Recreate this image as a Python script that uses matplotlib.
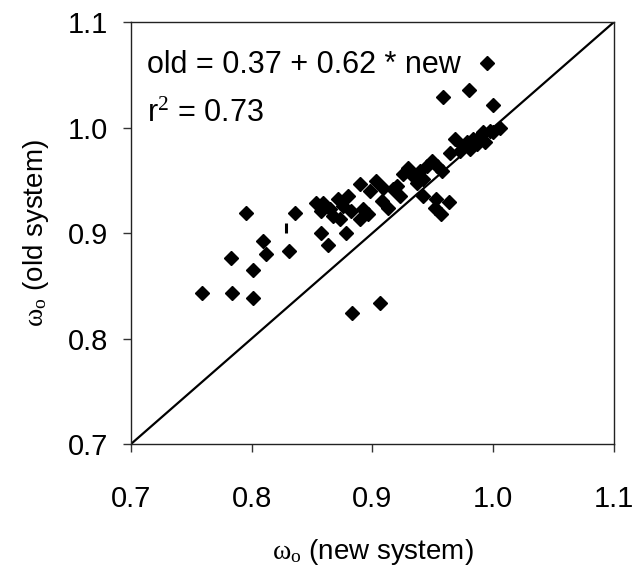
import matplotlib.pyplot as plt

plt.rcParams['font.family'] = ['Liberation Sans', 'DejaVu Sans']
plt.rcParams['mathtext.fontset'] = 'custom'
plt.rcParams['mathtext.rm'] = 'Liberation Serif'
plt.rcParams['mathtext.it'] = 'Liberation Serif'

# omega_o, new system (x) vs old system (y)
new_sys = [0.759, 0.784, 0.783, 0.801, 0.801, 0.809, 0.812, 0.831, 0.795, 0.836,
           0.857, 0.863, 0.878, 0.883, 0.906, 0.890,
           0.8535, 0.8591, 0.8646, 0.8715, 0.8798, 0.8577, 0.8674, 0.8757, 0.8826,
           0.8895, 0.8964, 0.8923, 0.8729,
           0.9033, 0.8978, 0.9089, 0.9172, 0.9075, 0.9130, 0.9227, 0.9199,
           0.9296, 0.9254, 0.9337, 0.9393, 0.9448, 0.9490, 0.9531, 0.9420, 0.9573, 0.9365,
           0.9683, 0.9642, 0.9725, 0.9780, 0.9835, 0.9891, 0.9918, 0.9974, 0.9808, 0.9863,
           0.9932, 0.9752, 1.0057, 1.0001,
           0.942, 0.953, 0.963, 0.952, 0.957,
           0.995, 0.958, 0.980, 1.000]
old_sys = [0.843, 0.843, 0.876, 0.865, 0.838, 0.892, 0.880, 0.883, 0.919, 0.919,
           0.900, 0.889, 0.900, 0.824, 0.834, 0.946,
           0.9288, 0.9288, 0.9224, 0.9319, 0.9351, 0.9209, 0.9161, 0.9256, 0.9209,
           0.9129, 0.9177, 0.9224, 0.9129,
           0.9494, 0.9399, 0.9430, 0.9414, 0.9304, 0.9240, 0.9351, 0.9446,
           0.9620, 0.9557, 0.9541, 0.9589, 0.9636, 0.9684, 0.9636, 0.9510, 0.9589, 0.9478,
           0.9890, 0.9763, 0.9779, 0.9858, 0.9890, 0.9921, 0.9953, 0.9969, 0.9795, 0.9842,
           0.9858, 0.9826, 1.000, 0.9953,
           0.935, 0.932, 0.929, 0.924, 0.918,
           1.061, 1.029, 1.036, 1.021]

# stray clipped marker
dash_x = [0.8286]
dash_y = [0.905]

ticks = [0.7, 0.8, 0.9, 1.0, 1.1]
tick_labels = ['0.7', '0.8', '0.9', '1.0', '1.1']

fig = plt.figure(figsize=(6.34, 5.75), dpi=100)
ax = fig.add_axes([131 / 634, 131 / 575, 483 / 634, 422 / 575])

ax.plot([0.7, 1.1], [0.7, 1.1], color='black', lw=1.6, zorder=2)
ax.plot(new_sys, old_sys, linestyle='none', marker='D', markersize=7.4,
        color='black', zorder=3)
ax.plot(dash_x, dash_y, linestyle='none', marker='|', markersize=7,
        markeredgewidth=2.2, color='black', zorder=3)

ax.set_xlim(0.7, 1.1)
ax.set_ylim(0.7, 1.1)
ax.set_xticks(ticks)
ax.set_xticklabels(tick_labels)
ax.set_yticks(ticks)
ax.set_yticklabels(tick_labels)
ax.tick_params(axis='both', labelsize=21, length=5.5, width=1, color='#333333')
ax.tick_params(axis='x', pad=24)
ax.tick_params(axis='y', pad=11)
for s in ax.spines.values():
    s.set_color('#222222')
    s.set_linewidth(1.0)

ax.set_xlabel(r'$\omega_\mathrm{o}$ (new system)', fontsize=20, labelpad=17)
ax.set_ylabel(r'$\omega_\mathrm{o}$ (old system)', fontsize=20, labelpad=12)

ax.text(0.033, 0.879, 'old = 0.37 + 0.62 * new', transform=ax.transAxes,
        fontsize=22, va='baseline', ha='left')
ax.text(0.033, 0.763, r'r$^2$ = 0.73', transform=ax.transAxes,
        fontsize=22, va='baseline', ha='left')

fig.savefig('out.png', dpi=100)
